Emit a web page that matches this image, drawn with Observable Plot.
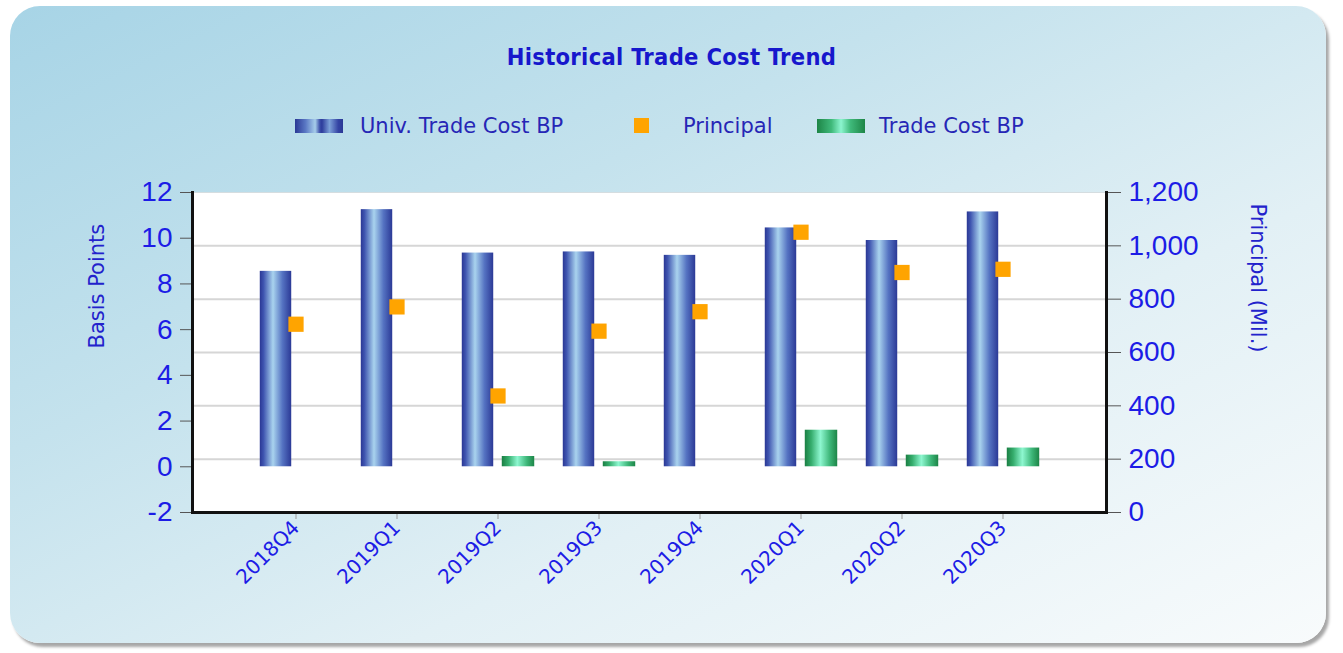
<!DOCTYPE html>
<html>
<head>
<meta charset="utf-8">
<script src="https://cdn.jsdelivr.net/npm/d3@7"></script>
<script src="https://cdn.jsdelivr.net/npm/@observablehq/plot@0.6"></script>
<style>
  html, body { margin: 0; padding: 0; background: #ffffff; width: 1343px; height: 653px; overflow: hidden; }
  #panel { position: absolute; left: 10px; top: 6px; width: 1316px; height: 637px; border-radius: 30px;
    background: linear-gradient(to bottom right, #a7d4e6 0%, #c4e2ed 35%, #e2f0f5 65%, #f8fbfc 100%);
    box-shadow: 3px 4px 3px rgba(0,0,0,0.35); }
  #title { position: absolute; left: 0; top: 43px; width: 1343px; text-align: center;
    font: bold 23.5px "DejaVu Sans Condensed", "DejaVu Sans", sans-serif; color: #1717cc; letter-spacing: 0.3px; }
  #legend { position: absolute; left: 0; top: 113px; width: 1343px; height: 26px;
    font: 21px "DejaVu Sans", sans-serif; color: #2626b6; }
  .sw { position: absolute; }
  .lt { position: absolute; top: 0; line-height: 26px; white-space: nowrap; }
  #chart { position: absolute; left: 0; top: 150px; }
</style>
</head>
<body>
<div id="panel"></div>
<div id="title"></div>
<div id="legend"></div>
<div id="chart"></div>
<script>
// ---- data ----
const quarters = ["2018Q4", "2019Q1", "2019Q2", "2019Q3", "2019Q4", "2020Q1", "2020Q2", "2020Q3"];
const univTradeCostBP = [8.55, 11.25, 9.35, 9.4, 9.25, 10.45, 9.9, 11.15];
const principalMil = [706, 771, 437, 680, 753, 1051, 900, 912];
const tradeCostBP = [null, null, 0.45, 0.22, null, 1.6, 0.51, 0.82];
const bpTicks = [-2, 0, 2, 4, 6, 8, 10, 12];
const principalTicks = [0, 200, 400, 600, 800, 1000, 1200];
const seriesNames = ["Univ. Trade Cost BP", "Principal", "Trade Cost BP"];
const titleText = "Historical Trade Cost Trend";
const yLabelLeft = "Basis Points";
const yLabelRight = "Principal (Mil.)";

// secondary axis mapping: principal [0,1200] <-> basis points [-2,12]
const bpDomain = [bpTicks[0], bpTicks[bpTicks.length - 1]];
const pDomain = [principalTicks[0], principalTicks[principalTicks.length - 1]];
const toBP = p => bpDomain[0] + (p - pDomain[0]) * (bpDomain[1] - bpDomain[0]) / (pDomain[1] - pDomain[0]);
const fromBP = b => pDomain[0] + (b - bpDomain[0]) * (pDomain[1] - pDomain[0]) / (bpDomain[1] - bpDomain[0]);

const rows = quarters.map((q, i) => ({quarter: q, univ: univTradeCostBP[i], principal: principalMil[i], trade: tradeCostBP[i]}));

// ---- title & legend ----
document.getElementById("title").textContent = titleText;
const legend = document.getElementById("legend");
const legendItems = [
  {swatch: "left:295px;top:6px;width:48px;height:14px;background:linear-gradient(to right,#2a3895 0%,#5a78c4 22%,#a6cdea 42%,#3a4ca8 52%,#2d3c9c 56%,#7b9fd8 72%,#3444a4 90%,#2a3895 100%);", textLeft: 360},
  {swatch: "left:634px;top:5px;width:15px;height:15px;background:#ffa400;", textLeft: 683},
  {swatch: "left:817px;top:6px;width:48px;height:14px;background:linear-gradient(to right,#1d8546 0%,#3fb97a 30%,#8cf5cf 50%,#3fb97a 70%,#1d8546 100%);", textLeft: 879}
];
legendItems.forEach((it, i) => {
  const s = document.createElement("div"); s.className = "sw"; s.style.cssText = it.swatch; legend.appendChild(s);
  const t = document.createElement("div"); t.className = "lt"; t.style.left = it.textLeft + "px"; t.textContent = seriesNames[i]; legend.appendChild(t);
});

// ---- chart ----
const tickBlue = "#1c1ce6";
const W = 1343, H = 490;
const mL = 192, mR = 237, mT = 42, mB = 128;
const step = (W - mL - mR) / (quarters.length + 1);
const half = step / 2;

const chart = Plot.plot({
  width: W, height: H,
  marginLeft: mL, marginRight: mR, marginTop: mT, marginBottom: mB,
  style: {background: "transparent", fontFamily: "DejaVu Sans, sans-serif"},
  x: {domain: quarters, type: "band", paddingInner: 0, paddingOuter: 0.5},
  y: {domain: bpDomain},
  marks: [
    Plot.frame({fill: "white", stroke: "#d5dde0"}),
    Plot.gridY(principalTicks.slice(1, -1).map(toBP), {stroke: "#d6d6d6", strokeOpacity: 1, strokeWidth: 2}),
    Plot.barY(rows, {x: "quarter", y: "univ", fill: "url(#gradUniv)", insetLeft: half - 36, insetRight: half + 4}),
    Plot.barY(rows.filter(d => d.trade != null), {x: "quarter", y: "trade", fill: "url(#gradTrade)", insetLeft: half + 4, insetRight: half - 37}),
    Plot.dot(rows, {x: "quarter", y: d => toBP(d.principal), symbol: "square", r: 8.6, fill: "#ffa400", stroke: null}),
    Plot.axisY(bpTicks, {anchor: "left", tickSize: 12, tickPadding: 8, fontSize: 28, fontFamily: "Liberation Sans, Arial, sans-serif",
      fill: tickBlue, stroke: "#555", label: null, tickFormat: d => String(d)}),
    Plot.axisY(principalTicks.map(toBP), {anchor: "right", tickSize: 14, tickPadding: 8, fontSize: 28, fontFamily: "Liberation Sans, Arial, sans-serif",
      fill: tickBlue, stroke: "#555", label: null, tickFormat: d => d3.format(",")(Math.round(fromBP(d)))}),
    Plot.axisX({anchor: "bottom", tickSize: 7, tickPadding: 5, tickRotate: -45, fontSize: 20, fontFamily: "DejaVu Sans, sans-serif",
      fill: tickBlue, stroke: "#999", label: null}),
    Plot.frame({anchor: "left", stroke: "#111", strokeWidth: 3}),
    Plot.frame({anchor: "right", stroke: "#111", strokeWidth: 3}),
    Plot.frame({anchor: "bottom", stroke: "#111", strokeWidth: 3}),
    Plot.text([yLabelLeft], {frameAnchor: "left", rotate: -90, dx: -95, dy: -4, fontSize: 21, fontFamily: "DejaVu Sans, sans-serif", fill: "#2222cc"}),
    Plot.text([yLabelRight], {frameAnchor: "right", rotate: 90, dx: 151, fontSize: 21, fontFamily: "DejaVu Sans, sans-serif", fill: "#2222cc"})
  ]
});

// gradients for the cylinder-like bars
const defs = d3.select(chart).insert("defs", ":first-child");
const g1 = defs.append("linearGradient").attr("id", "gradUniv").attr("x1", 0).attr("x2", 1).attr("y1", 0).attr("y2", 0);
[[0, "#2a3794"], [0.12, "#3f55b0"], [0.42, "#a9d3ee"], [0.72, "#5573c2"], [1, "#2b3996"]].forEach(([o, c]) => g1.append("stop").attr("offset", o).attr("stop-color", c));
const g2 = defs.append("linearGradient").attr("id", "gradTrade").attr("x1", 0).attr("x2", 1).attr("y1", 0).attr("y2", 0);
[[0, "#1b7f43"], [0.2, "#35ad6d"], [0.48, "#8ef7d0"], [0.78, "#3cb577"], [1, "#1d8547"]].forEach(([o, c]) => g2.append("stop").attr("offset", o).attr("stop-color", c));

document.getElementById("chart").appendChild(chart);
</script>
</body>
</html>
